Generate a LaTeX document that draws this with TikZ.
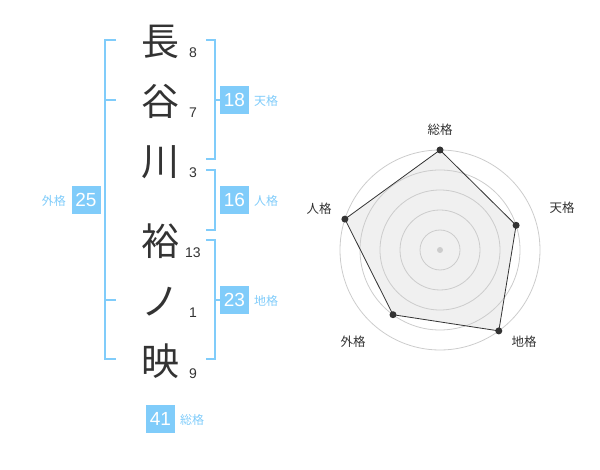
\documentclass[tikz,border=0pt]{standalone}
\usepackage{fontspec}
\setmainfont{Liberation Sans}
\newfontfamily\cjk{Noto Sans CJK JP}
\definecolor{txt}{HTML}{333333}
\definecolor{blu}{HTML}{80CCFA}
\definecolor{ring}{HTML}{CCCCCC}
\definecolor{area}{HTML}{F0F0F0}
\tikzset{
  kanji/.style={font=\cjk\fontsize{38}{38}\selectfont, text=txt, anchor=base, inner sep=0},
  strk/.style={font=\fontsize{14}{14}\selectfont, text=txt, anchor=base, inner sep=0},
  numbox/.style={fill=blu, text=white, minimum width=29, minimum height=28, inner sep=0, font=\fontsize{19}{19}\selectfont},
  blabel/.style={text=blu, font=\cjk\fontsize{12}{12}\selectfont, inner sep=0},
  brk/.style={draw=blu, line width=2},
  rlabel/.style={text=txt, font=\cjk\fontsize{12.5}{12.5}\selectfont, inner sep=0},
  ringc/.style={draw=ring, line width=0.8},
  dot/.style={circle, fill=txt, minimum size=7, inner sep=0},
}
\begin{document}
\begin{tikzpicture}[x=1pt,y=-1pt]
\useasboundingbox (0,0) rectangle (600,470);
% name characters
\node[kanji] (k1) at (160,55.4) {長};
\node[kanji] (k2) at (160,115.4) {谷};
\node[kanji] (k3) at (160,175.4) {川};
\node[kanji] (k4) at (160,255.4) {裕};
\node[kanji] (k5) at (160,315.4) {ノ};
\node[kanji] (k6) at (160,375.4) {映};
% stroke counts
\node[strk] (s1) at (193,58) {8};
\node[strk] (s2) at (193,118) {7};
\node[strk] (s3) at (193,178) {3};
\node[strk] (s4) at (193,258) {13};
\node[strk] (s5) at (193,318) {1};
\node[strk] (s6) at (193,378) {9};
% brackets
\draw[brk] (116,40) -- (105,40) -- (105,359) -- (116,359);
\draw[brk] (105,100) -- (116,100);
\draw[brk] (105,300) -- (116,300);
\draw[brk] (206,40) -- (215,40) -- (215,159) -- (206,159);
\draw[brk] (215,100) -- (220,100);
\draw[brk] (206,170) -- (215,170) -- (215,230) -- (206,230);
\draw[brk] (206,240) -- (215,240) -- (215,359) -- (206,359);
\draw[brk] (215,300) -- (220,300);
% boxes
\node[numbox] (b18) at (234.5,100) {18};
\node[blabel, anchor=west] (l18) at (254,101) {天格};
\node[numbox] (b16) at (234.5,200) {16};
\node[blabel, anchor=west] (l16) at (254,201) {人格};
\node[numbox] (b23) at (234.5,300) {23};
\node[blabel, anchor=west] (l23) at (254,301) {地格};
\node[numbox] (b25) at (86,200) {25};
\node[blabel, anchor=east] (l25) at (66,201) {外格};
\node[numbox] (b41) at (160.5,419) {41};
\node[blabel, anchor=west] (l41) at (180,420) {総格};
% radar
\begin{scope}[shift={(440,250)}]
  \coordinate (c) at (0,0);
  \coordinate (p1) at (90:100);
  \coordinate (p2) at (-18:80);
  \coordinate (p3) at (-54:-100);
  \fill[area] (0,-100) -- (76.1,-24.7) -- (58.8,80.9) -- (-47.0,64.7) -- (-95.1,-30.9) -- cycle;
  \foreach \r in {20,40,60,80,100} \draw[ringc] (c) circle[radius=\r];
  \node[dot] (v1) at (0,-100) {};
  \node[dot] (v2) at (76.1,-24.7) {};
  \node[dot] (v3) at (58.8,80.9) {};
  \node[dot] (v4) at (-47.0,64.7) {};
  \node[dot] (v5) at (-95.1,-30.9) {};
  \draw[txt, line width=0.8] (v1.center) -- (v2.center) -- (v3.center) -- (v4.center) -- (v5.center) -- cycle;
  \node[circle, fill=ring, minimum size=6, inner sep=0] (cd) at (c) {};
  \node[rlabel] (r1) at (0,-120) {総格};
  \node[rlabel] (r2) at (122,-42) {天格};
  \node[rlabel] (r3) at (84,92) {地格};
  \node[rlabel] (r4) at (-87,92) {外格};
  \node[rlabel] (r5) at (-121,-41) {人格};
\end{scope}
\end{tikzpicture}
\end{document}
